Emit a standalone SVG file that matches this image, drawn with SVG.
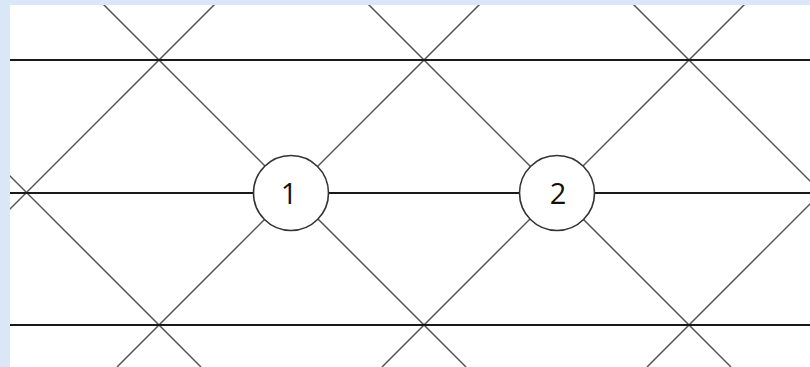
<svg xmlns="http://www.w3.org/2000/svg" width="810" height="367" viewBox="0 0 810 367">
  <defs>
    <clipPath id="area"><rect x="10" y="5" width="800" height="362"/></clipPath>
    <style>
      .diag { stroke: #555; stroke-width: 1.5; fill: none; }
      .hor { stroke: #1a1a1a; stroke-width: 2; fill: none; }
      .node circle { fill: #ffffff; stroke: #333; stroke-width: 1.6; }
      .node text { font-family: "Open Sans", "Liberation Sans", sans-serif; fill: #111; text-anchor: middle; }
    </style>
  </defs>
  <rect x="0" y="0" width="810" height="367" fill="#d9e7f6"/>
  <rect x="10" y="5" width="800" height="362" fill="#ffffff"/>
  <g id="connectors" clip-path="url(#area)">
    <line class="diag" x1="-166" y1="0" x2="201" y2="367"/>
    <line class="diag" x1="99" y1="0" x2="466" y2="367"/>
    <line class="diag" x1="364" y1="0" x2="731" y2="367"/>
    <line class="diag" x1="629" y1="0" x2="996" y2="367"/>
    <line class="diag" x1="219" y1="0" x2="-148" y2="367"/>
    <line class="diag" x1="484" y1="0" x2="117" y2="367"/>
    <line class="diag" x1="749" y1="0" x2="382" y2="367"/>
    <line class="diag" x1="1014" y1="0" x2="647" y2="367"/>
    <line class="hor" x1="10" y1="60" x2="810" y2="60"/>
    <line class="hor" x1="10" y1="193" x2="810" y2="193"/>
    <line class="hor" x1="10" y1="325" x2="810" y2="325"/>
  </g>
  <g id="node1" class="node">
    <circle cx="291" cy="193" r="37.5"/>
    <text x="289" y="204" font-size="29">1</text>
  </g>
  <g id="node2" class="node">
    <circle cx="557" cy="193" r="37.5"/>
    <text x="558" y="204" font-size="29">2</text>
  </g>
</svg>
